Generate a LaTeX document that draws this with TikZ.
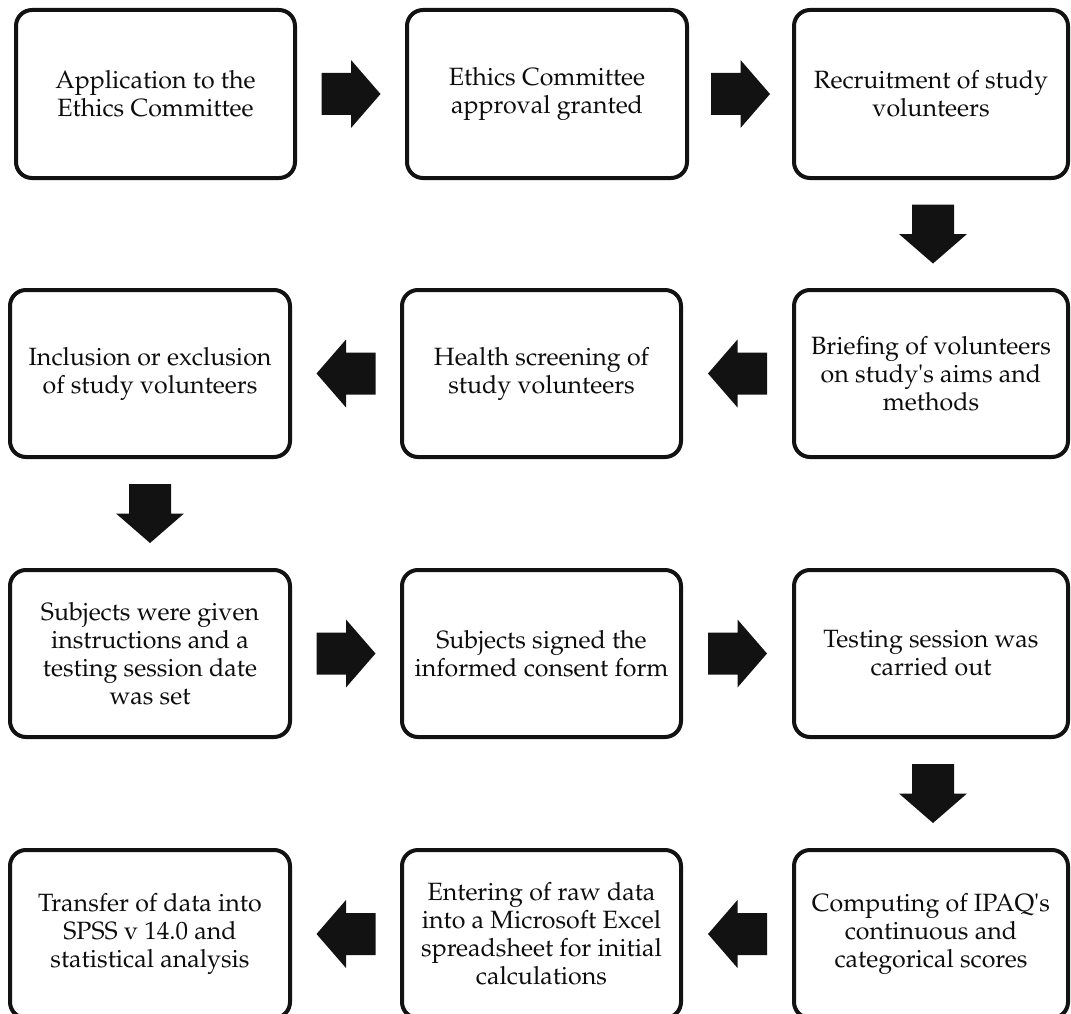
\documentclass[tikz,border=0pt]{standalone}
\usepackage[T1]{fontenc}
\renewcommand{\rmdefault}{ppl}
\usetikzlibrary{calc}
\tikzset{
  stepbox/.style={draw=black!93, line width=4pt, rounded corners=16pt, fill=white,
    align=center, inner sep=0pt, font=\fontsize{25}{28}\selectfont, text=black!95},
  blockarrow/.style={fill=black!93, draw=none},
}
\newcommand{\blkarrow}[2]{%
  \fill[blockarrow, shift={(#1)}, rotate=#2]
    (-29.5,-21) -- (0,-21) -- (0,-34) -- (29.5,0) -- (0,34) -- (0,21) -- (-29.5,21) -- cycle;}
\begin{document}
\begin{tikzpicture}[x=1pt,y=-1pt]
\useasboundingbox (0,0) rectangle (1071,1014);
\clip (0,0) rectangle (1071,1014);
% row 1
\node[stepbox, minimum width=279pt, minimum height=168pt] (b1) at (155.5,94) {Application to the\\Ethics Committee};
\node[stepbox, minimum width=280pt, minimum height=168pt] (b2) at (547,94) {Ethics Committee\\approval granted};
\node[stepbox, minimum width=274pt, minimum height=168pt] (b3) at (931,94) {Recruitment of study\\volunteers};
% row 2
\node[stepbox, minimum width=280pt, minimum height=167pt] (b6) at (150,373.5) {Inclusion or exclusion\\of study volunteers};
\node[stepbox, minimum width=279pt, minimum height=167pt] (b5) at (541.5,373.5) {Health screening of\\study volunteers};
\node[stepbox, minimum width=274pt, minimum height=167pt] (b4) at (931,373.5) {Briefing of volunteers\\on study\textquotesingle s aims and\\methods};
% row 3
\node[stepbox, minimum width=280pt, minimum height=167pt] (b7) at (150,653.5) {Subjects were given\\instructions and a\\testing session date\\was set};
\node[stepbox, minimum width=279pt, minimum height=167pt] (b8) at (541.5,653.5) {Subjects signed the\\informed consent form};
\node[stepbox, minimum width=274pt, minimum height=167pt] (b9) at (931,653.5) {Testing session was\\carried out};
% row 4
\node[stepbox, minimum width=280pt, minimum height=168pt] (b12) at (150,934) {Transfer of data into\\SPSS v 14.0 and\\statistical analysis};
\node[stepbox, minimum width=279pt, minimum height=168pt] (b11) at (541.5,934) {Entering of raw data\\into a Microsoft Excel\\spreadsheet for initial\\calculations};
\node[stepbox, minimum width=274pt, minimum height=168pt] (b10) at (931,934) {Computing of IPAQ\textquotesingle s\\continuous and\\categorical scores};
% arrows
\coordinate (a1) at ($(b1.east)!0.5!(b2.west)$);
\coordinate (a2) at ($(b2.east)!0.5!(b3.west)$);
\coordinate (a3) at ($(b3.south)!0.5!(b4.north)+(2,0)$);
\coordinate (a4) at ($(b4.west)!0.5!(b5.east)$);
\coordinate (a5) at ($(b5.west)!0.5!(b6.east)$);
\coordinate (a6) at ($(b6.south)!0.5!(b7.north)$);
\coordinate (a7) at ($(b7.east)!0.5!(b8.west)$);
\coordinate (a8) at ($(b8.east)!0.5!(b9.west)$);
\coordinate (a9) at ($(b9.south)!0.5!(b10.north)+(2,0)$);
\coordinate (a10) at ($(b10.west)!0.5!(b11.east)$);
\coordinate (a11) at ($(b11.west)!0.5!(b12.east)$);
\blkarrow{a1}{0}
\blkarrow{a2}{0}
\blkarrow{a3}{-90}
\blkarrow{a4}{180}
\blkarrow{a5}{180}
\blkarrow{a6}{-90}
\blkarrow{a7}{0}
\blkarrow{a8}{0}
\blkarrow{a9}{-90}
\blkarrow{a10}{180}
\blkarrow{a11}{180}
\end{tikzpicture}
\end{document}
